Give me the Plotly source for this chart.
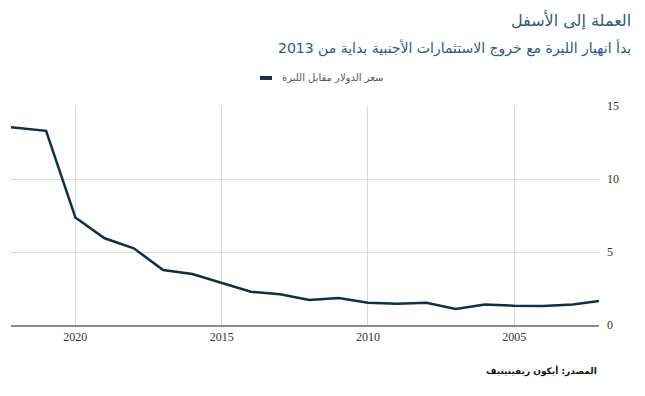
import plotly.graph_objects as go

years = [2022.2, 2021, 2020, 2019, 2018, 2017, 2016, 2015, 2014, 2013, 2012,
         2011, 2010, 2009, 2008, 2007, 2006, 2005, 2004, 2003, 2002.1]
usd_try = [13.54, 13.3, 7.37, 5.94, 5.25, 3.77, 3.49, 2.9, 2.28, 2.1, 1.71,
           1.85, 1.53, 1.46, 1.53, 1.1, 1.41, 1.32, 1.3, 1.41, 1.64]
x_ticks = [2020, 2015, 2010, 2005]
y_ticks = [0, 5, 10, 15]

title = "العملة إلى الأسفل"
subtitle = "بدأ انهيار الليرة مع خروج الاستثمارات الأجنبية بداية من 2013"
series_name = "سعر الدولار مقابل الليرة"
source = "المصدر: أيكون ريفينيتيف"

line_color = "#0e2f44"

fig = go.Figure()
fig.add_trace(go.Scatter(
    x=years, y=usd_try, mode="lines", name=series_name,
    line=dict(color=line_color, width=2.5), showlegend=False,
))

# page body has an 8px margin; compensate so the plot sits where the reference has it
fig.update_layout(
    width=637, height=388,
    margin=dict(l=3, r=46, t=98, b=71, autoexpand=False),
    plot_bgcolor="white", paper_bgcolor="white",
    showlegend=False,
    xaxis=dict(range=[2022.2, 2002.1], tickvals=x_ticks, showgrid=True,
               gridcolor="#d9d9d9", gridwidth=1, zeroline=False,
               showline=True, linecolor="#8a8a8a", linewidth=2,
               ticks="", automargin=False,
               tickfont=dict(family="Georgia, Liberation Serif, serif", size=12, color="#333333")),
    yaxis=dict(range=[0, 15], tickvals=y_ticks, side="right", showgrid=True,
               gridcolor="#d9d9d9", gridwidth=1, zeroline=False, showline=False,
               ticks="", ticklabelstandoff=7, automargin=False,
               tickfont=dict(family="Georgia, Liberation Serif, serif", size=12, color="#333333")),
    shapes=[
        dict(type="rect", xref="paper", yref="paper", x0=0.4235, x1=0.4439,
             y0=1.119, y1=1.137, fillcolor=line_color, line=dict(width=0)),
    ],
    annotations=[
        dict(text=title, xref="paper", yref="paper", x=1.057, y=1.393,
             xanchor="right", yanchor="middle", showarrow=False,
             font=dict(family="DejaVu Sans", size=16, color="#33577c")),
        dict(text=subtitle, xref="paper", yref="paper", x=1.057, y=1.265,
             xanchor="right", yanchor="middle", showarrow=False,
             font=dict(family="DejaVu Sans", size=14, color="#2c5886")),
        dict(text=series_name, xref="paper", yref="paper", x=0.4575, y=1.128,
             xanchor="left", yanchor="middle", showarrow=False,
             font=dict(family="DejaVu Sans", size=10, color="#555555")),
        dict(text="<b>" + source + "</b>", xref="paper", yref="paper", x=1.0, y=-0.21,
             xanchor="right", yanchor="middle", showarrow=False,
             font=dict(family="DejaVu Sans", size=9, color="#111111")),
    ],
)

fig.write_html("out.html")
